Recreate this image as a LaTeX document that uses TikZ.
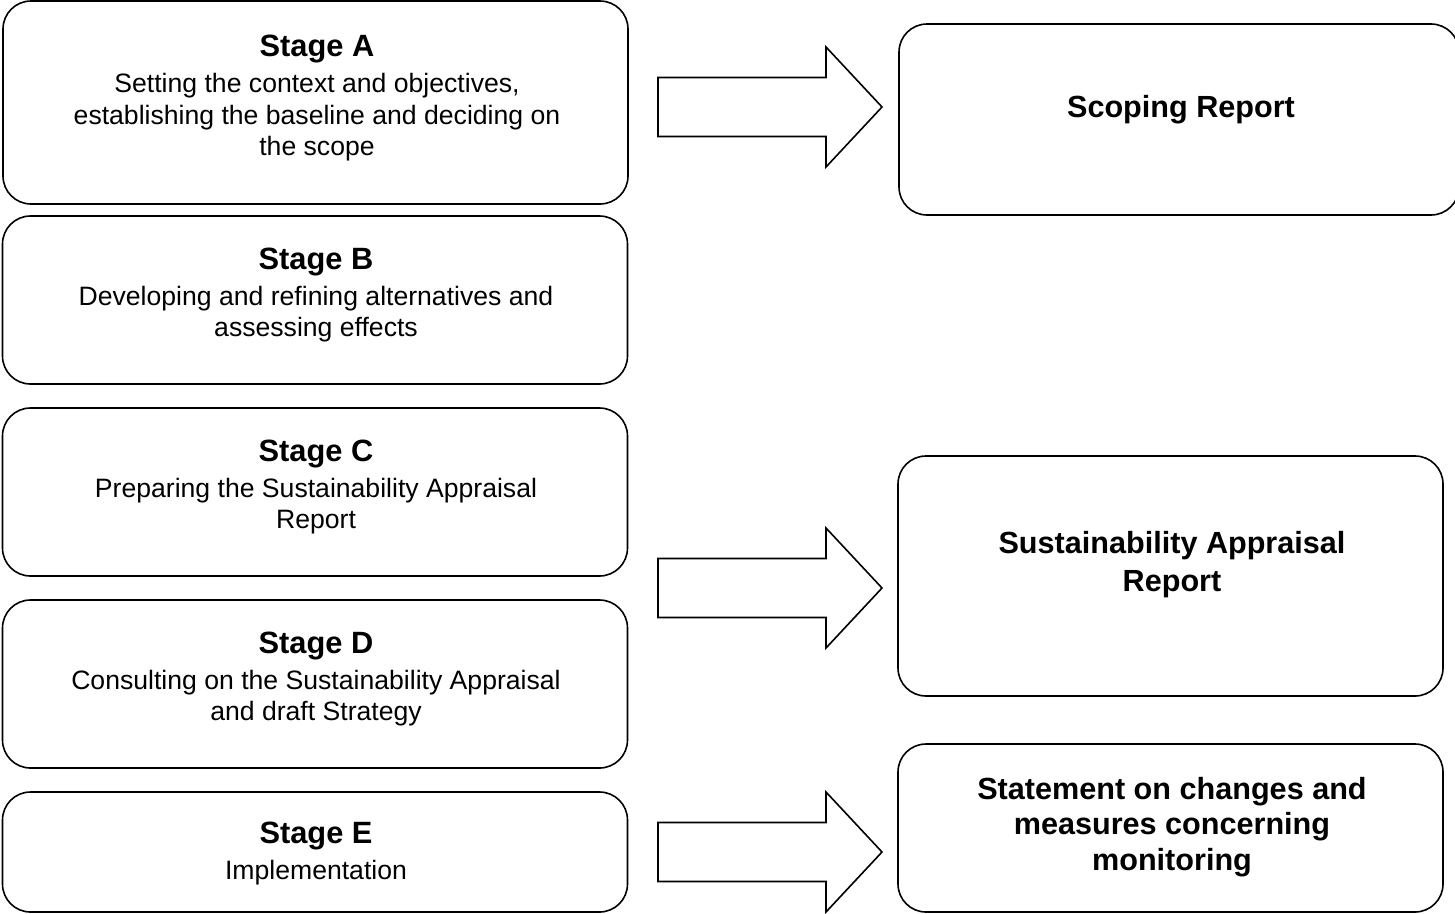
\documentclass[tikz,border=0pt]{standalone}
\usepackage{fontspec}
\setmainfont{Liberation Sans}
\usetikzlibrary{positioning}
\tikzset{
  stagebox/.style={draw,line width=1.6pt,rounded corners=28pt,minimum width=625pt,inner sep=0pt},
  outbox/.style={draw,line width=1.6pt,rounded corners=28pt,inner sep=0pt},
  stagetext/.style={align=center,inner sep=0pt,font=\fontsize{26.6}{31.5}\selectfont},
  outtext/.style={align=center,inner sep=0pt,font=\bfseries\fontsize{30.6}{38}\selectfont},
  blockarrow/.style={draw,line width=1.6pt,line join=miter},
}
\newcommand{\stagehead}[1]{{\bfseries\fontsize{30.8}{35}\selectfont #1}}

\begin{document}
\begin{tikzpicture}[x=1pt,y=-1pt]
  \useasboundingbox (0,0) rectangle (1455,913);
  % left column
  \node[stagebox,minimum height=203pt] (stageA) at (315.5,102.5) {};
  \node[stagebox,minimum height=168pt] (stageB) at (315,300) {};
  \node[stagebox,minimum height=168pt] (stageC) at (315,492) {};
  \node[stagebox,minimum height=168pt] (stageD) at (315,684) {};
  \node[stagebox,minimum height=120pt] (stageE) at (315,852) {};
  \node[stagetext] (textA) at (317,98.5) {\stagehead{Stage A}\\[4.5pt]Setting the context and objectives,\\
    establishing the baseline and deciding on\\the scope};
  \node[stagetext] (textB) at (316,295) {\stagehead{Stage B}\\[4.5pt]Developing and refining alternatives and\\
    assessing effects};
  \node[stagetext] (textC) at (316,487) {\stagehead{Stage C}\\[4.5pt]Preparing the Sustainability Appraisal\\Report};
  \node[stagetext] (textD) at (316,679) {\stagehead{Stage D}\\[4.5pt]Consulting on the Sustainability Appraisal\\
    and draft Strategy};
  \node[stagetext] (textE) at (316,853) {\stagehead{Stage E}\\[4.5pt]Implementation};
  % right column
  \node[outbox,minimum width=560pt,minimum height=191pt] (scoping) at (1179,119.5) {};
  \node[outbox,minimum width=545pt,minimum height=240pt] (sareport) at (1170.5,576) {};
  \node[outbox,minimum width=545pt,minimum height=168pt] (statement) at (1170.5,828) {};
  \node[outtext] (scopingtxt) at (1181,110) {Scoping Report};
  \node[outtext] (sareporttxt) at (1172,565) {Sustainability Appraisal\\Report};
  \node[outtext,font=\bfseries\fontsize{30.6}{35.5}\selectfont] (statementtxt) at (1172,827)
    {Statement on changes and\\measures concerning\\monitoring};
  % block arrows
  \foreach \yc in {107,588,852}
    \draw[blockarrow] (658,\yc-29.5) -- (826,\yc-29.5) -- (826,\yc-60) -- (882,\yc)
      -- (826,\yc+60) -- (826,\yc+29.5) -- (658,\yc+29.5) -- cycle;
\end{tikzpicture}
\end{document}
